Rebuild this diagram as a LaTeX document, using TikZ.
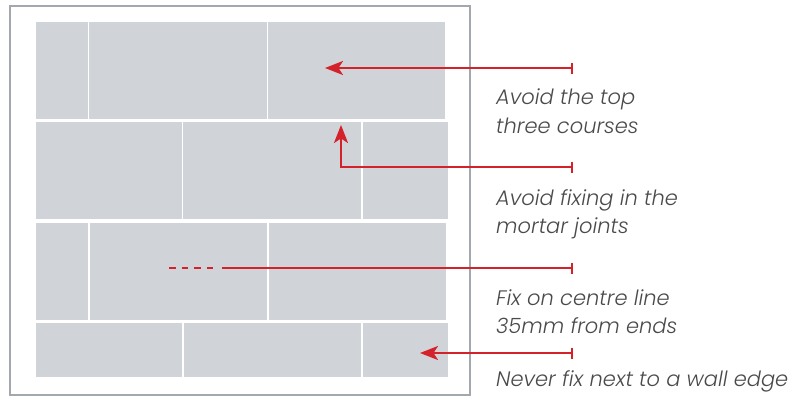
\documentclass[tikz,border=0pt]{standalone}
\usepackage{fontspec}
\usepackage{tikz}
\usetikzlibrary{arrows.meta}
\newfontfamily\lblfont{Poppins Light Italic}
\definecolor{brickgrey}{HTML}{D0D3D8}
\definecolor{framegrey}{HTML}{A3A8AE}
\definecolor{fixred}{HTML}{D3222A}
\definecolor{txtgrey}{HTML}{4A4A4A}
\tikzset{brick/.style={fill=brickgrey},
         frm/.style={draw=framegrey,line width=1.2pt},
         lead/.style={draw=fixred,line width=2.2pt},
         tip/.style={lead,{Bar[width=11pt]}-{Stealth[length=18pt,width=14pt,inset=4.5pt]}},
         bartail/.style={lead,{Bar[width=11pt]}-},
         lbl/.style={anchor=base west,inner sep=0pt,text=txtgrey,
                     font=\lblfont\fontsize{21pt}{25pt}\selectfont}
         }

\begin{document}
\begin{tikzpicture}[x=1pt,y=-1pt]
        \useasboundingbox (0,0) rectangle (794,396);
        % wall outline
        \draw[frm] (10,6) rectangle (470,395);

        % courses, top to bottom
        \foreach \xa/\xb in {36/87.5, 89/266.5, 268/445}
          \fill[brick] (\xa,22) rectangle (\xb,118.5);
        \foreach \xa/\xb in {36/181.5, 183/360.5, 362.5/448}
          \fill[brick] (\xa,122) rectangle (\xb,218.5);
        \foreach \xa/\xb in {36/88, 90/267, 269/446}
          \fill[brick] (\xa,223) rectangle (\xb,319.5);
        \foreach \xa/\xb in {36/182, 184/361, 363/448}
          \fill[brick] (\xa,323) rectangle (\xb,377);

        % leader ends
        \coordinate (b1) at (573,68);
        \coordinate (p1) at (325,68);
        \coordinate (b2) at (573,167);
        \coordinate (p2) at (341,125);
        \coordinate (b3) at (573,268);
        \coordinate (s3) at (222,268);
        \coordinate (d3) at (214,268);
        \coordinate (p3) at (169,268);
        \coordinate (b4) at (573,353);
        \coordinate (p4) at (420,353);

        \draw[tip] (b1) -- (p1);
        \draw[tip] (b2) -| (p2);
        \draw[bartail] (b3) -- (s3);
        \draw[lead,dash pattern=on 6.5pt off 6pt] (p3) -- (d3);
        \draw[tip] (b4) -- (p4);

        % notes
        \node[lbl] (n1a) at (496,104) {Avoid the top};
        \node[lbl] (n1b) at (496,133) {three courses};
        \node[lbl] (n2a) at (496,205) {Avoid fixing in the};
        \node[lbl] (n2b) at (496,233) {mortar joints};
        \node[lbl] (n3a) at (496,305) {Fix on centre line};
        \node[lbl] (n3b) at (496,333) {35mm from ends};
        \node[lbl] (n4) at (496,386) {Never fix next to a wall edge};
\end{tikzpicture}
\end{document}
